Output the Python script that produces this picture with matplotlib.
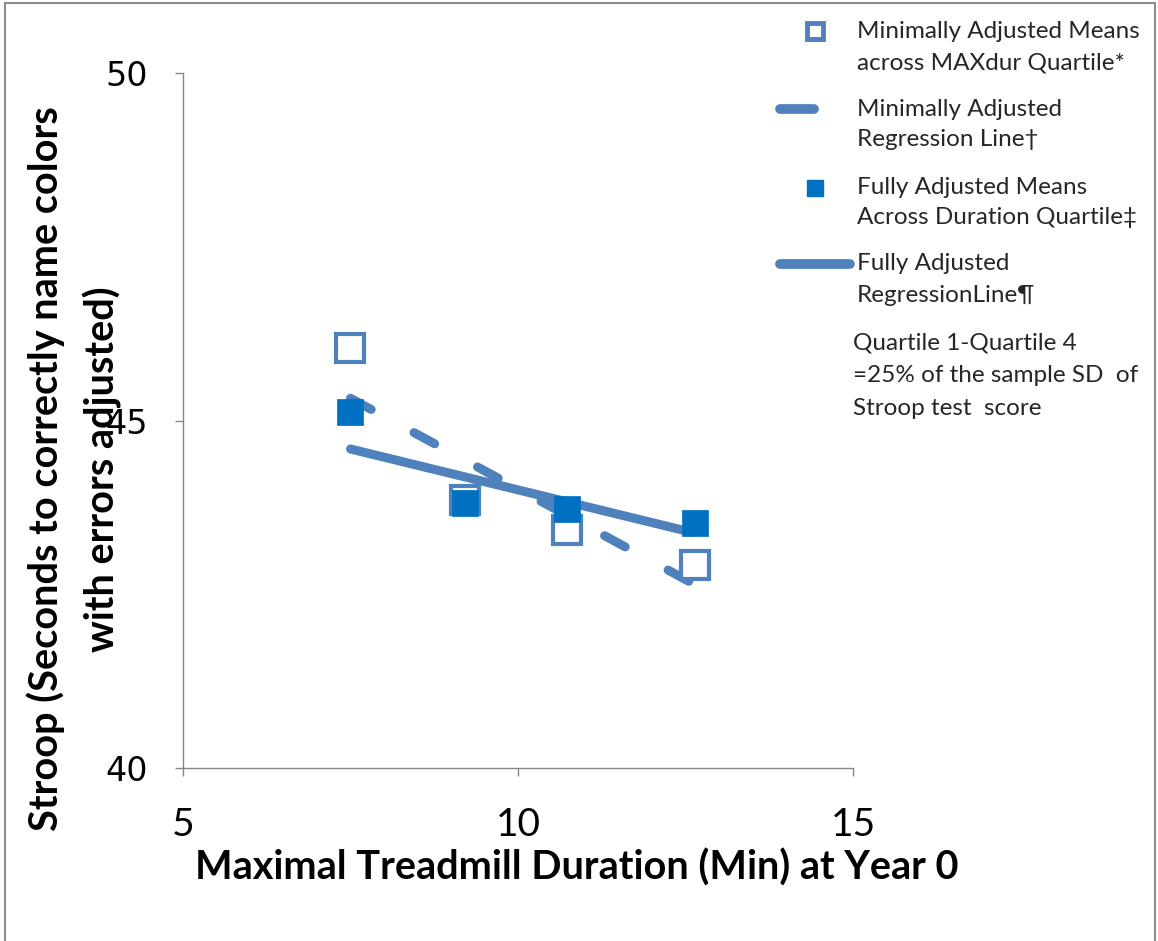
import matplotlib
matplotlib.use("Agg")
from matplotlib import pyplot as plt
from matplotlib.lines import Line2D
from matplotlib.patches import Rectangle

# quartile means of treadmill duration (min)
quart_x = [7.49, 9.21, 10.73, 12.64]
min_means = [46.04, 43.86, 43.42, 42.92]
full_means = [45.12, 43.81, 43.73, 43.53]

# regression lines (end points)
reg_x = [7.5, 12.6]
min_reg = [45.32, 42.66]
full_reg = [44.59, 43.39]

xticks = [5, 10, 15]
yticks = [40, 45, 50]

W, H = 1158, 941
def fx(px):
    return px / W
def fy(py):
    return 1 - py / H

c_line = "#4f81bd"
c_fill = "#0070c0"
grey = "#868686"
narrow = ["Lato", "DejaVu Sans"]

fig = plt.figure(figsize=(W / 100, H / 100), dpi=100)
ax = fig.add_axes([fx(183), fy(768), 670 / W, 695 / H])

ax.plot(reg_x, min_reg, color=c_line, lw=6.5, ls=(0, (2.6, 5.4)),
        solid_capstyle="round", dash_capstyle="round", zorder=2)
ax.plot(reg_x, full_reg, color=c_line, lw=6.5, solid_capstyle="round", zorder=2)
ax.plot(quart_x, min_means, "s", ms=20, mfc="white", mec=c_line, mew=3, zorder=3)
ax.plot(quart_x, full_means, "s", ms=19, mfc=c_fill, mec=c_fill, mew=0.5, zorder=4)

ax.set_xlim(5, 15)
ax.set_ylim(40, 50)
ax.set_xticks(xticks)
ax.set_yticks(yticks)
for s in ["top", "right"]:
    ax.spines[s].set_visible(False)
for s in ["left", "bottom"]:
    ax.spines[s].set_color(grey)
    ax.spines[s].set_linewidth(1)
ax.tick_params(axis="both", direction="out", length=6, width=1, color=grey)
ax.tick_params(axis="x", pad=22)
ax.tick_params(axis="y", pad=19)
for t in ax.get_xticklabels():
    t.set_fontfamily(narrow)
    t.set_fontsize(28)
for t in ax.get_yticklabels():
    t.set_fontfamily("DejaVu Sans")
    t.set_fontsize(24)

fig.text(fx(577), fy(868), "Maximal Treadmill Duration (Min) at Year 0",
         ha="center", va="center", fontsize=28.5, fontweight="bold", family=narrow)
fig.text(fx(46), fy(469), "Stroop (Seconds to correctly name colors",
         ha="center", va="center", rotation=90, fontsize=28.5, fontweight="bold", family=narrow)
fig.text(fx(102), fy(469), "with errors adjusted)",
         ha="center", va="center", rotation=90, fontsize=28.5, fontweight="bold", family=narrow)

# legend drawn by hand
fig.add_artist(Line2D([fx(815)], [fy(31)], marker="s", ms=12, mfc="white",
                      mec=c_line, mew=3.5, ls="none"))
fig.add_artist(Line2D([fx(780), fx(814)], [fy(109), fy(109)], color=c_line,
                      lw=7, solid_capstyle="round"))
fig.add_artist(Line2D([fx(815)], [fy(188)], marker="s", ms=11.5, mfc=c_fill,
                      mec=c_fill, ls="none"))
fig.add_artist(Line2D([fx(780), fx(850)], [fy(264), fy(264)], color=c_line,
                      lw=7, solid_capstyle="round"))

leg_text = [
    (857, 31, "Minimally Adjusted Means"),
    (857, 63, "across MAXdur Quartile*"),
    (857, 109, "Minimally Adjusted"),
    (857, 140, "Regression Line\u2020"),
    (857, 187, "Fully Adjusted Means"),
    (857, 218, "Across Duration Quartile\u2021"),
    (857, 264, "Fully Adjusted"),
    (857, 295, "RegressionLine\u00b6"),
    (853, 343, "Quartile 1-Quartile 4"),
    (853, 376, "=25% of the sample SD  of"),
    (853, 408, "Stroop test  score"),
]
for x, y, s in leg_text:
    fig.text(fx(x), fy(y), s, ha="left", va="center", fontsize=17.5,
             family=narrow, color="#262626")

fig.add_artist(Rectangle((fx(5), fy(960)), fx(1150), (960 - 3) / H,
                         fill=False, ec="#8c8c8c", lw=1.5))

plt.savefig("out.png", dpi=100)
